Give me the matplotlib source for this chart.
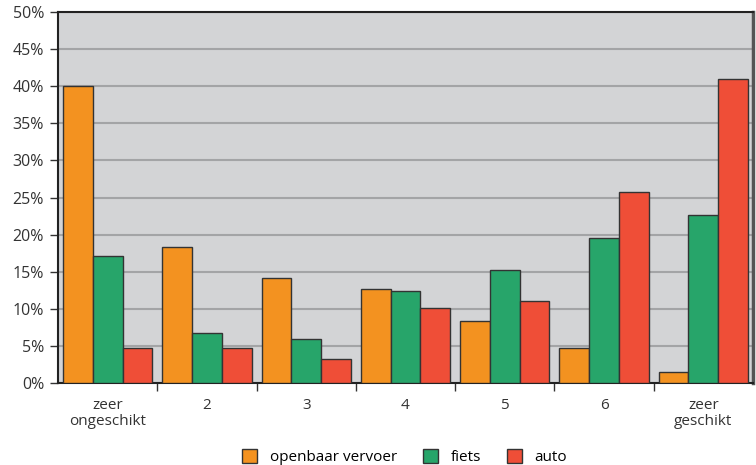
import numpy as np
import matplotlib.pyplot as plt
from matplotlib.ticker import PercentFormatter

categories = ['zeer\nongeschikt', '2', '3', '4', '5', '6', 'zeer\ngeschikt']
series_names = ['openbaar vervoer', 'fiets', 'auto']
ov = [40.0, 18.3, 14.2, 12.7, 8.3, 4.7, 1.5]
fiets = [17.1, 6.8, 5.9, 12.4, 15.3, 19.5, 22.7]
auto = [4.7, 4.7, 3.3, 10.1, 11.0, 25.7, 41.0]
colors = ['#f39220', '#27a56a', '#ef4e37']

plt.rcParams['font.family'] = ['Open Sans', 'DejaVu Sans']

fig = plt.figure(figsize=(7.56, 4.65), dpi=100)
ax = fig.add_axes([0.0767, 0.1763, 0.9193, 0.7977])
ax.set_facecolor('#d3d4d6')

x = np.arange(len(categories))
w = 0.3
for i, vals in enumerate([ov, fiets, auto]):
    ax.bar(x + (i - 1) * w, vals, w, color=colors[i], edgecolor='#333333',
           linewidth=1.0, label=series_names[i], zorder=3)

ax.set_xlim(-0.5, len(categories) - 0.5)
ax.set_ylim(0, 50)
ax.set_yticks(np.arange(0, 51, 5))
ax.yaxis.set_major_formatter(PercentFormatter(decimals=0))
ax.grid(axis='y', color='#a3a4a6', linewidth=1.5, zorder=0)

ax.set_xticks(x)
ax.set_xticklabels(categories, fontsize=11, color='#333333', linespacing=1.1)
ax.tick_params(axis='x', length=0, pad=11)
ax.set_xticks(np.arange(0.5, len(categories) - 0.5, 1), minor=True)
ax.tick_params(axis='x', which='minor', length=6, width=1, color='#333333')
ax.tick_params(axis='y', length=6, width=1, color='#333333', labelsize=11.5,
               labelcolor='#333333', pad=4)

for s in ['left', 'bottom', 'top']:
    ax.spines[s].set_color('#222222')
    ax.spines[s].set_linewidth(1.5)
ax.spines['right'].set_color('#555555')
ax.spines['right'].set_linewidth(2.5)

fig.legend(loc='lower center', bbox_to_anchor=(0.535, -0.03), ncol=3,
           frameon=False, fontsize=11, handlelength=1.0, handleheight=1.0,
           columnspacing=1.7, handletextpad=0.8)

fig.savefig('out.png', dpi=100)
